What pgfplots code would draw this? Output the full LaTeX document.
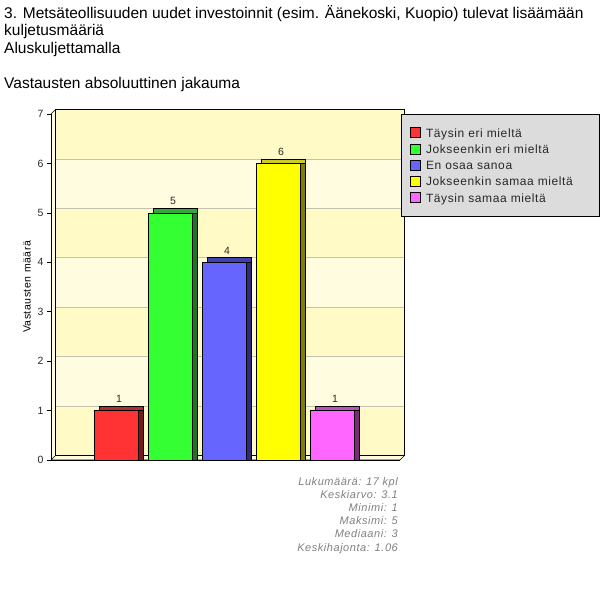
\documentclass[border=0pt]{standalone}
\usepackage{fontspec}
\setmainfont{Liberation Sans}
\newfontfamily\chartfont{Liberation Sans}[LetterSpace=5]
\usepackage{pgfplots}
\pgfplotsset{compat=1.18}

\definecolor{bandA}{RGB}{255,250,198}
\definecolor{bandB}{RGB}{255,252,224}
\definecolor{gridc}{RGB}{194,194,176}
\definecolor{legfill}{RGB}{220,220,220}
\definecolor{txtgray}{RGB}{40,40,40}
\definecolor{statgray}{RGB}{128,128,128}
\definecolor{redF}{RGB}{255,51,51}\definecolor{redT}{RGB}{176,48,48}\definecolor{redS}{RGB}{120,24,24}
\definecolor{greenF}{RGB}{51,255,51}\definecolor{greenT}{RGB}{51,170,51}\definecolor{greenS}{RGB}{32,115,32}
\definecolor{blueF}{RGB}{102,102,255}\definecolor{blueT}{RGB}{64,64,176}\definecolor{blueS}{RGB}{44,44,120}
\definecolor{yelF}{RGB}{255,255,0}\definecolor{yelT}{RGB}{204,204,40}\definecolor{yelS}{RGB}{128,128,0}
\definecolor{magF}{RGB}{255,102,255}\definecolor{magT}{RGB}{192,80,192}\definecolor{magS}{RGB}{120,44,120}

\begin{document}
\begin{tikzpicture}[x=1pt,y=1pt]
\useasboundingbox (0,0) rectangle (600,614);

% titles
\begin{scope}[every node/.style={anchor=base west, inner sep=0pt, font=\fontsize{15.5}{18}\selectfont}]
\node at (4,595.7) {3. Metsäteollisuuden uudet investoinnit (esim. Äänekoski, Kuopio) tulevat lisäämään};
\node at (4,578.2) {kuljetusmääriä};
\node at (4,560.7) {Aluskuljettamalla};
\node at (4,525.7) {Vastausten absoluuttinen jakauma};
\end{scope}

\begin{axis}[
    at={(51pt,154pt)}, anchor=south west,
    width=349pt, height=346pt, scale only axis,
    xmin=-0.217, xmax=6.246, ymin=0, ymax=7,
    clip=false, axis on top,
    /pgf/number format/assume math mode=true,
    axis x line*=bottom, axis y line*=left,
    axis line style={-, black, line width=0.7pt},
    xtick=\empty, ytick={0,1,...,7},
    tick align=outside, major tick length=4pt,
    tick style={black, line width=0.7pt},
    yticklabel style={font=\chartfont\fontsize{10.5}{12}\selectfont, text=txtgray},
    ylabel={Vastausten määrä},
    every axis y label/.style={at={(axis description cs:-0.0688,0.5)}, rotate=90, anchor=center,
        font=\chartfont\fontsize{10.5}{12}\selectfont},
    bar3d/.style={ybar, bar width=44pt, bar shift=0pt, draw=black, line width=0.6pt},
    every node near coord/.append style={font=\chartfont\fontsize{10.5}{12}\selectfont,
        text=txtgray, anchor=base, yshift=8pt, xshift=2.25pt},
    legend image code/.code={\draw[#1, draw=black, line width=0.6pt] (0pt,-0.7pt) rectangle (10pt,9.3pt);},
    legend cell align=left,
    legend style={at={(axis description cs:1.0029,1)}, anchor=north west,
        fill=legfill, draw=black, line width=0.8pt,
        inner xsep=9pt, inner ysep=12.3pt, row sep=4.25pt, column sep=5pt,
        font=\chartfont\fontsize{12}{14}\selectfont, text=txtgray,
        nodes={inner sep=0pt, anchor=base west, text height=10.3pt, text depth=1.7pt, text width=164pt}},
]
% back wall bands and grid
\begin{scope}[xshift=4.5pt, yshift=4.5pt]
\fill[bandB] (axis cs:-0.217,0) rectangle (axis cs:6.246,7);
\fill[bandA] (axis cs:-0.217,0) rectangle (axis cs:6.246,1);
\fill[bandA] (axis cs:-0.217,2) rectangle (axis cs:6.246,3);
\fill[bandA] (axis cs:-0.217,4) rectangle (axis cs:6.246,5);
\fill[bandA] (axis cs:-0.217,6) rectangle (axis cs:6.246,7);
\draw[gridc, line width=0.8pt] (axis cs:-0.217,1) -- (axis cs:6.246,1);
\draw[gridc, line width=0.8pt] (axis cs:-0.217,2) -- (axis cs:6.246,2);
\draw[gridc, line width=0.8pt] (axis cs:-0.217,3) -- (axis cs:6.246,3);
\draw[gridc, line width=0.8pt] (axis cs:-0.217,4) -- (axis cs:6.246,4);
\draw[gridc, line width=0.8pt] (axis cs:-0.217,5) -- (axis cs:6.246,5);
\draw[gridc, line width=0.8pt] (axis cs:-0.217,6) -- (axis cs:6.246,6);
\end{scope}
% left wall and floor
\fill[bandB] (axis cs:-0.217,0) -- (axis cs:-0.217,7) -- ([xshift=4.5pt,yshift=4.5pt]axis cs:-0.217,7) -- ([xshift=4.5pt,yshift=4.5pt]axis cs:-0.217,0) -- cycle;
\filldraw[fill=bandB, draw=black, line width=0.7pt] (axis cs:-0.217,0) -- (axis cs:6.246,0) -- ([xshift=4.5pt,yshift=4.5pt]axis cs:6.246,0) -- ([xshift=4.5pt,yshift=4.5pt]axis cs:-0.217,0) -- cycle;
\draw[black, line width=0.7pt] ([xshift=4.5pt,yshift=4.5pt]axis cs:-0.217,0) rectangle ([xshift=4.5pt,yshift=4.5pt]axis cs:6.246,7);
\draw[black, line width=0.7pt] (axis cs:-0.217,7) -- ([xshift=4.5pt,yshift=4.5pt]axis cs:-0.217,7);

% bars: top face, side face, front face
\addplot[bar3d, fill=redT, xshift=4.5pt, yshift=4.5pt, forget plot] coordinates {(1,1)};
\addplot[bar3d, fill=redS, xshift=4.5pt, forget plot] coordinates {(1,1)};
\addplot[bar3d, fill=redF, nodes near coords] coordinates {(1,1)};

\addplot[bar3d, fill=greenT, xshift=4.5pt, yshift=4.5pt, forget plot] coordinates {(2,5)};
\addplot[bar3d, fill=greenS, xshift=4.5pt, forget plot] coordinates {(2,5)};
\addplot[bar3d, fill=greenF, nodes near coords] coordinates {(2,5)};

\addplot[bar3d, fill=blueT, xshift=4.5pt, yshift=4.5pt, forget plot] coordinates {(3,4)};
\addplot[bar3d, fill=blueS, xshift=4.5pt, forget plot] coordinates {(3,4)};
\addplot[bar3d, fill=blueF, nodes near coords] coordinates {(3,4)};

\addplot[bar3d, fill=yelT, xshift=4.5pt, yshift=4.5pt, forget plot] coordinates {(4,6)};
\addplot[bar3d, fill=yelS, xshift=4.5pt, forget plot] coordinates {(4,6)};
\addplot[bar3d, fill=yelF, nodes near coords] coordinates {(4,6)};

\addplot[bar3d, fill=magT, xshift=4.5pt, yshift=4.5pt, forget plot] coordinates {(5,1)};
\addplot[bar3d, fill=magS, xshift=4.5pt, forget plot] coordinates {(5,1)};
\addplot[bar3d, fill=magF, nodes near coords] coordinates {(5,1)};

\legend{Täysin eri mieltä, Jokseenkin eri mieltä, En osaa sanoa, Jokseenkin samaa mieltä, Täysin samaa mieltä}
\end{axis}

% summary statistics
\begin{scope}[every node/.style={anchor=base east, inner sep=0pt, text=statgray,
    font=\chartfont\itshape\fontsize{11}{13}\selectfont}]
\node at (398,128) {Lukumäärä: 17 kpl};
\node at (398,115) {Keskiarvo: 3.1};
\node at (398,102) {Minimi: 1};
\node at (398,89) {Maksimi: 5};
\node at (398,76) {Mediaani: 3};
\node at (398,63) {Keskihajonta: 1.06};
\end{scope}
\end{tikzpicture}
\end{document}
